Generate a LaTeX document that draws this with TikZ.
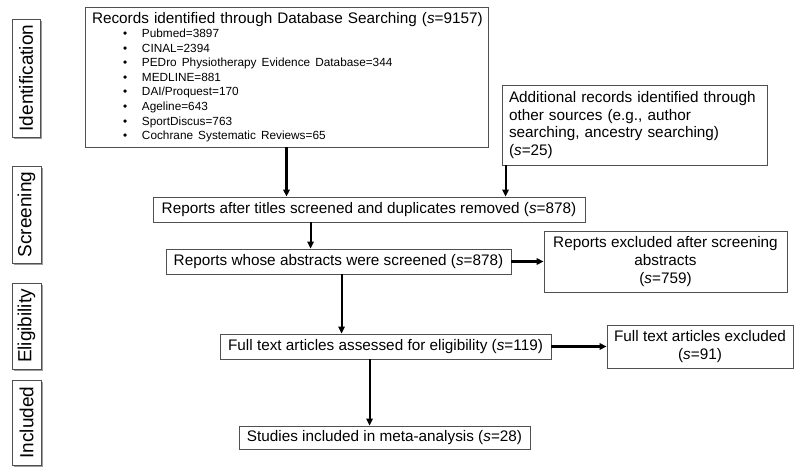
\documentclass[tikz,border=0pt]{standalone}
\usepackage{fontspec}
\setmainfont{Liberation Sans}
\usetikzlibrary{arrows.meta,shadows,calc}
\definecolor{boxline}{HTML}{505050}
\newcommand{\bitem}[1]{\hspace*{31pt}\makebox[19pt][l]{\textbullet}#1\par}
\tikzset{
  box/.style={draw=boxline, line width=0.9pt, inner sep=0pt, font=\fontsize{15.3}{17.7}\selectfont},
  side/.style={draw=boxline, line width=0.9pt, fill=white, rotate=90, inner sep=0pt,
    font=\fontsize{19}{22}\selectfont,
    drop shadow={shadow xshift=1.8pt, shadow yshift=-1.8pt, fill=black!55, opacity=0.7}},
  flow/.style={line width=2.1pt, -{Triangle[length=7pt,width=6.5pt]}}
}
\begin{document}
\begin{tikzpicture}[x=1pt,y=-1pt]
\useasboundingbox[fill=white] (0,0) rectangle (800,476);
% side labels
\node[side, minimum width=118pt, minimum height=28pt] (lid) at (26,78) {Identification};
\node[side, minimum width=97pt, minimum height=29pt] (lsc) at (26.5,214.5) {Screening};
\node[side, minimum width=86pt, minimum height=29pt] (lel) at (26.5,326) {Eligibility};
\node[side, minimum width=85pt, minimum height=29pt] (lin) at (26.5,422.5) {Included};
% records box
\node[box, minimum width=403pt, minimum height=140pt, text width=389pt, inner xsep=7pt, align=left] (db) at (286.5,77)
{\mbox{Records identified through Database Searching (\textit{s}=9157)}\par
{\fontsize{11.8}{14.57}\selectfont
\bitem{Pubmed=3897}
\bitem{CINAL=2394}
\bitem{PEDro Physiotherapy Evidence Database=344}
\bitem{MEDLINE=881}
\bitem{DAI/Proquest=170}
\bitem{Ageline=643}
\bitem{SportDiscus=763}
\bitem{Cochrane Systematic Reviews=65}}};
% additional
\node[box, minimum width=265pt, minimum height=80pt, text width=251pt, inner xsep=7pt, align=left] (add) at (634.5,125)
{Additional records identified through\\ other sources (e.g., author\\ searching, ancestry searching)\\ (\textit{s}=25)};
% screening
\node[box, minimum width=432pt, minimum height=25pt] (titles) at (369,209.5)
{Reports after titles screened and duplicates removed (\textit{s}=878)};
\node[box, minimum width=345pt, minimum height=25pt] (abs) at (338.5,261.5)
{Reports whose abstracts were screened (\textit{s}=878)};
\node[box, minimum width=243pt, minimum height=61pt, align=center] (absx) at (665.5,261.5)
{Reports excluded after screening\\ abstracts\\ (\textit{s}=759)};
% eligibility
\node[box, minimum width=331pt, minimum height=25pt] (ft) at (385.5,346.5)
{Full text articles assessed for eligibility (\textit{s}=119)};
\node[box, minimum width=186pt, minimum height=43pt, align=center] (ftx) at (700,346.5)
{Full text articles excluded\\ (\textit{s}=91)};
% included
\node[box, minimum width=291pt, minimum height=23pt] (inc) at (384.5,437.5)
{Studies included in meta-analysis (\textit{s}=28)};
% connectors
\draw[flow] (db.south) -- (db.south |- titles.north);
\draw[flow] ([xshift=4pt]add.south west) -- ([xshift=4pt]add.south west |- titles.north);
\draw[flow] ([xshift=158pt]titles.south west) -- ([xshift=158pt]titles.south west |- abs.north);
\draw[flow] ([xshift=176pt]abs.south west) -- ([xshift=176pt]abs.south west |- ft.north);
\draw[flow] ([xshift=150pt]ft.south west) -- ([xshift=150pt]ft.south west |- inc.north);
\draw[flow] (abs.east) -- (absx.west);
\draw[flow] (ft.east) -- (ftx.west);
\end{tikzpicture}
\end{document}
